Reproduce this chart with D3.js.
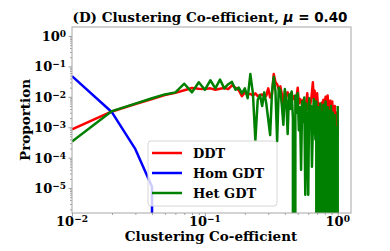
<!DOCTYPE html>
<html>
<head>
<meta charset="utf-8">
<script src="https://cdn.jsdelivr.net/npm/d3@7"></script>
<style>
  body { margin: 0; background: #fff; }
  text { font-family: "DejaVu Serif", serif; font-weight: bold; }
</style>
</head>
<body>
<script>
// bin centres of the clustering co-efficient histogram
const coeff = [
  0.01, 0.02, 0.03, 0.04, 0.05, 0.06, 0.07, 0.08, 0.09, 0.10,
  0.11, 0.12, 0.13, 0.14, 0.15, 0.16, 0.17, 0.18, 0.19, 0.20,
  0.21, 0.22, 0.23, 0.24, 0.25, 0.26, 0.27, 0.28, 0.29, 0.30,
  0.31, 0.32, 0.33, 0.34, 0.35, 0.36, 0.37, 0.38, 0.39, 0.40,
  0.41, 0.42, 0.43, 0.44, 0.45, 0.46, 0.47, 0.48, 0.49, 0.50,
  0.51, 0.52, 0.53, 0.54, 0.55, 0.56, 0.57, 0.58, 0.59, 0.60,
  0.61, 0.62, 0.63, 0.64, 0.65, 0.66, 0.67, 0.68, 0.69, 0.70,
  0.71, 0.72, 0.73, 0.74, 0.75, 0.76, 0.77, 0.78, 0.79, 0.80,
  0.81, 0.82, 0.83, 0.84, 0.85, 0.86, 0.87, 0.88, 0.89, 0.90,
  0.91, 0.92, 0.93, 0.94, 0.95, 0.96, 0.97, 0.98, 0.99, 1.00
];

const ddt = [
  0.00085, 0.0033, 0.0058, 0.0085, 0.0115, 0.0135, 0.0165, 0.0195, 0.0185, 0.018,
  0.019, 0.017, 0.0185, 0.0195, 0.018, 0.024, 0.02, 0.0165, 0.0105, 0.014,
  0.012, 0.0125, 0.011, 0.013, 0.0105, 0.0115, 0.012, 0.01, 0.011, 0.019,
  0.0095, 0.012, 0.056, 0.03, 0.026, 0.018, 0.022, 0.012, 0.0054, 0.015,
  0.011, 0.014, 0.009, 0.012, 0.014, 0.0085, 0.0105, 0.007, 0.0095, 0.02,
  0.006, 0.0085, 0.0075, 0.005, 0.008, 0.0065, 0.0045, 0.007, 0.013, 0.004,
  0.006, 0.0055, 0.0075, 0.014, 0.03, 0.009, 0.016, 0.005, 0.007, 0.013,
  0.0045, 0.006, 0.0035, 0.005, 0.0025, 0.0065, 0.004, 0.008, 0.003, 0.0055,
  0.01, 0.0045, 0.002, 0.011, 0.0035, 0.006, 0.003, 0.0075, 0.0025, 0.004,
  0.007, 0.0022, 0.0035, 0.0015, 0.005, 0.0009, 0.0025, 0.003, 0.0004, 0.0018
];

const homGdt = [
  0.048, 0.0031, 0.00019, 0.000011, 0, 0, 0, 0, 0, 0,
  0, 0, 0, 0, 0, 0, 0, 0, 0, 0,
  0, 0, 0, 0, 0, 0, 0, 0, 0, 0,
  0, 0, 0, 0, 0, 0, 0, 0, 0, 0,
  0, 0, 0, 0, 0, 0, 0, 0, 0, 0,
  0, 0, 0, 0, 0, 0, 0, 0, 0, 0,
  0, 0, 0, 0, 0, 0, 0, 0, 0, 0,
  0, 0, 0, 0, 0, 0, 0, 0, 0, 0,
  0, 0, 0, 0, 0, 0, 0, 0, 0, 0,
  0, 0, 0, 0, 0, 0, 0, 0, 0, 0
];

const hetGdt = [
  0.00034, 0.0034, 0.006, 0.009, 0.012, 0.014, 0.027, 0.014, 0.03, 0.017,
  0.035, 0.019, 0.037, 0.019, 0.026, 0.031, 0.017, 0.02, 0.013, 0.019,
  0.009, 0.056, 0.013, 0.00037, 0.008, 0.0115, 0.005, 0.014, 0.006, 0.0018,
  0.00055, 0.014, 0.045, 0.015, 0.00035, 0.02, 0.016, 0.005, 0.0012, 0.018,
  0.0075, 0.0006, 0.012, 0.004, 0.015, 0.002, 0, 0.011, 0.003, 0.013,
  0.0008, 0.0045, 0.00004, 0.007, 0.0015, 0.0095, 0.000006, 0.006, 0.0004, 0.000006,
  0.009, 0.0022, 0.005, 0.00005, 0.0011, 0.0085, 0.0018, 0.0004, 0.007, 0,
  0.0045, 0.0008, 0, 0.006, 0.0012, 0.003, 0, 0.0055, 0.0006, 0,
  0.007, 0.0015, 0, 0.0045, 0.0009, 0, 0.0035, 0, 0.005, 0.0004,
  0, 0.003, 0.0007, 0, 0.0025, 0, 0.001, 0, 0, 0.005
];

const seriesNames = ['DDT', 'Hom GDT', 'Het GDT'];
const seriesColors = ['#ff0000', '#0000ff', '#008000'];
const xTickExps = [-2, -1, 0];
const yTickExps = [0, -1, -2, -3, -4, -5];

const width = 390, height = 251;
const plotL = 72, plotR = 351, plotT = 27, plotB = 213;

const svg = d3.select('body')
  .append('svg')
  .attr('width', width)
  .attr('height', height);

const x = d3.scaleLog()
  .domain([0.01, Math.pow(10, 0.1)])
  .range([plotL, plotR]);

const y = d3.scaleLog()
  .domain([Math.pow(10, -5.82), Math.pow(10, 0.296)])
  .range([plotB, plotT]);

svg.append('clipPath')
  .attr('id', 'plot-clip')
  .append('rect')
  .attr('x', plotL)
  .attr('y', plotT)
  .attr('width', plotR - plotL)
  .attr('height', plotB - plotT);

// minor ticks, 2..9 of each decade
const minorX = [];
[0.01, 0.1, 1].forEach(d => [2, 3, 4, 5, 6, 7, 8, 9].forEach(m => {
  if (d * m < x.domain()[1]) minorX.push(d * m);
}));
const minorY = [];
[1e-6, 1e-5, 1e-4, 1e-3, 1e-2, 1e-1, 1].forEach(d => [2, 3, 4, 5, 6, 7, 8, 9].forEach(m => {
  const v = d * m;
  if (v > y.domain()[0] && v < y.domain()[1]) minorY.push(v);
}));

const tickColor = '#8c8c8c';

const xMinor = svg.append('g')
  .attr('transform', `translate(0,${plotB})`)
  .call(d3.axisBottom(x).tickValues(minorX).tickSize(2).tickFormat(''));
const xMajor = svg.append('g')
  .attr('transform', `translate(0,${plotB})`)
  .call(d3.axisBottom(x).tickValues(xTickExps.map(e => Math.pow(10, e))).tickSize(3.5).tickFormat(''));
const yMinor = svg.append('g')
  .attr('transform', `translate(${plotL},0)`)
  .call(d3.axisLeft(y).tickValues(minorY).tickSize(2).tickFormat(''));
const yMajor = svg.append('g')
  .attr('transform', `translate(${plotL},0)`)
  .call(d3.axisLeft(y).tickValues(yTickExps.map(e => Math.pow(10, e))).tickSize(3.5).tickFormat(''));

[xMinor, xMajor, yMinor, yMajor].forEach(g => {
  g.select('.domain').remove();
  g.selectAll('line').attr('stroke', tickColor).attr('stroke-width', 0.8);
});

// power-of-ten tick labels
function powerLabel(sel, exp) {
  sel.append('tspan').text('10');
  sel.append('tspan')
    .attr('dy', '-0.45em')
    .style('font-size', '9px')
    .text(exp < 0 ? '\u2212' + (-exp) : String(exp));
}

xTickExps.forEach(e => {
  const t = svg.append('text')
    .attr('x', x(Math.pow(10, e)))
    .attr('y', plotB + 13)
    .attr('text-anchor', 'middle')
    .style('font-size', '13px');
  powerLabel(t, e);
});

yTickExps.forEach(e => {
  const t = svg.append('text')
    .attr('x', plotL - 6)
    .attr('y', y(Math.pow(10, e)) + 5)
    .attr('text-anchor', 'end')
    .style('font-size', '13px');
  powerLabel(t, e);
});

// lines
const plot = svg.append('g').attr('clip-path', 'url(#plot-clip)');
const floor = 1e-300;
const line = d3.line()
  .x(d => x(d[0]))
  .y(d => y(Math.max(d[1], floor)));

[ddt, homGdt, hetGdt].forEach((vals, i) => {
  plot.append('path')
    .datum(coeff.map((c, j) => [c, vals[j]]))
    .attr('d', line)
    .attr('fill', 'none')
    .attr('stroke', seriesColors[i])
    .attr('stroke-width', 2.5)
    .attr('stroke-linejoin', 'round');
});

// frame
svg.append('rect')
  .attr('x', plotL)
  .attr('y', plotT)
  .attr('width', plotR - plotL)
  .attr('height', plotB - plotT)
  .attr('fill', 'none')
  .attr('stroke', '#a6a6a6')
  .attr('stroke-width', 1);

// legend
const legend = svg.append('g').attr('transform', 'translate(148,141)');
legend.append('rect')
  .attr('width', 129)
  .attr('height', 65)
  .attr('rx', 3)
  .attr('fill', 'white')
  .attr('fill-opacity', 0.8)
  .attr('stroke', '#d6d6d6')
  .attr('stroke-width', 1);

seriesNames.forEach((name, i) => {
  const ly = 12 + i * 20;
  legend.append('line')
    .attr('x1', 4)
    .attr('x2', 34)
    .attr('y1', ly)
    .attr('y2', ly)
    .attr('stroke', seriesColors[i])
    .attr('stroke-width', 2.5);
  legend.append('text')
    .attr('x', 45)
    .attr('y', ly + 5)
    .style('font-size', '13px')
    .text(name);
});

// titles
const title = svg.append('text')
  .attr('x', 210)
  .attr('y', 22)
  .attr('text-anchor', 'middle')
  .style('font-size', '13.5px');
title.append('tspan').text('(D) Clustering Co-efficient, ');
title.append('tspan')
  .style('font-family', '"DejaVu Sans", sans-serif')
  .style('font-style', 'italic')
  .text('\u03bc');
title.append('tspan')
  .style('font-family', '"DejaVu Sans", sans-serif')
  .text(' = 0.40');

svg.append('text')
  .attr('x', 211)
  .attr('y', 241)
  .attr('text-anchor', 'middle')
  .style('font-size', '13.5px')
  .text('Clustering Co-efficient');

svg.append('text')
  .attr('transform', 'translate(30,120) rotate(-90)')
  .attr('text-anchor', 'middle')
  .style('font-size', '13.5px')
  .text('Proportion');
</script>
</body>
</html>
